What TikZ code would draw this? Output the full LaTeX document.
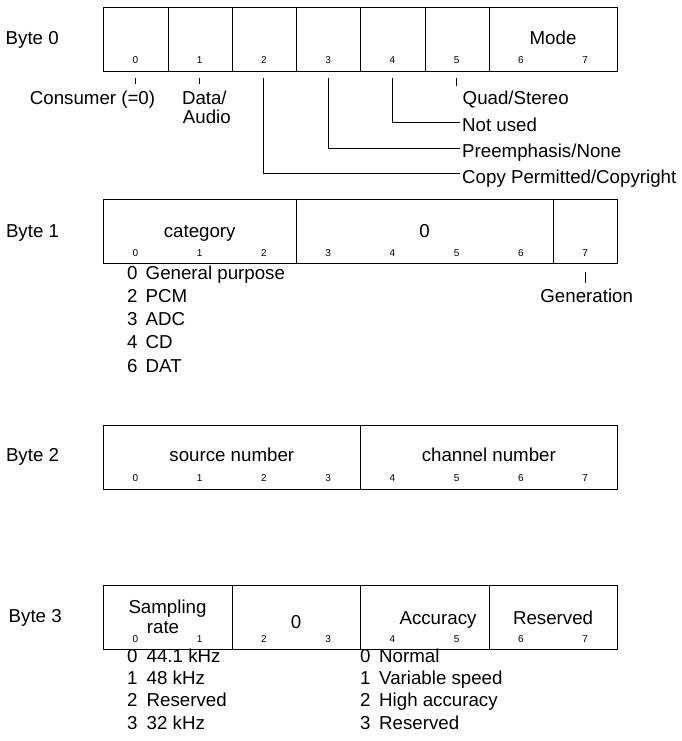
\documentclass[tikz,border=0pt]{standalone}
\usepackage{fontspec}
\setmainfont{Liberation Sans}
\begin{document}
\begin{tikzpicture}[x=1pt,y=-1pt,
  lbl/.style={font=\fontsize{18.7}{20}\selectfont, inner sep=0pt, anchor=base},
  lblw/.style={lbl, anchor=base west},
  bitn/.style={font=\fontsize{10}{12}\selectfont, inner sep=0pt, anchor=base},
  field/.style={draw, line width=1.1pt, minimum height=64pt, inner sep=0pt, anchor=north west},
  lead/.style={line width=1.1pt}]
\useasboundingbox (0,0) rectangle (682,741);

% ---------- Byte 0 ----------
\node[lblw] (byte0) at (5.5,44.3) {Byte 0};
\foreach \i/\x in {0/103.3,1/167.6,2/231.8,3/296.1,4/360.3,5/424.6}
  \node[field, minimum width=64.25pt] (b0f\i) at (\x,6.7) {};
\node[field, minimum width=128.5pt] (b0m) at (488.8,6.7) {};
\node[lbl] (mode) at (553.05,44.3) {Mode};
\foreach \i in {0,...,7}
  \node[bitn] (b0b\i) at ({135.4+64.25*\i},64) {\i};

\coordinate (t0a) at (135.4,78);  \coordinate (t0b) at (135.4,84.3);
\coordinate (t1a) at (199.7,78);  \coordinate (t1b) at (199.7,84.3);
\coordinate (t5a) at (456.7,78);  \coordinate (t5b) at (456.7,86);
\coordinate (t2a) at (263.9,78);  \coordinate (l2) at (460,173.3);
\coordinate (t3a) at (328.2,78);  \coordinate (l3) at (460,148.3);
\coordinate (t4a) at (392.4,78);  \coordinate (l4) at (460,122.3);
\draw[lead] (t0a) -- (t0b);
\draw[lead] (t1a) -- (t1b);
\draw[lead] (t5a) -- (t5b);
\draw[lead] (t2a) |- (l2);
\draw[lead] (t3a) |- (l3);
\draw[lead] (t4a) |- (l4);

\node[lbl] (consumer) at (92.5,105) {Consumer (=0)};
\node[lblw] (data) at (181.8,104.5) {Data/};
\node[lblw] (audio) at (182.7,123.5) {Audio};
\node[lblw] (quad) at (462.5,105) {Quad/Stereo};
\node[lblw] (notused) at (462,131.7) {Not used};
\node[lblw] (preemph) at (462,157.3) {Preemphasis/None};
\node[lblw] (copy) at (462,183.3) {Copy Permitted/Copyright};

% ---------- Byte 1 ----------
\node[lblw] (byte1) at (5.8,237.7) {Byte 1};
\node[field, minimum width=192.75pt] (b1cat) at (103.3,199.3) {};
\node[field, minimum width=257pt] (b1zero) at (296.1,199.3) {};
\node[field, minimum width=64.25pt] (b1gen) at (553.1,199.3) {};
\node[lbl] (category) at (199.7,237.7) {category};
\node[lbl] (zero1) at (424.6,237.7) {0};
\foreach \i in {0,...,7}
  \node[bitn] (b1b\i) at ({135.4+64.25*\i},256.5) {\i};
\coordinate (g1a) at (585.2,271.7); \coordinate (g1b) at (585.2,283.3);
\draw[lead] (g1a) -- (g1b);
\node[lbl] (generation) at (586.7,302.3) {Generation};
\foreach \d/\t/\y [count=\k] in {0/General purpose/279.3,2/PCM/302.5,3/ADC/325.7,4/CD/348.9,6/DAT/372}{
  \node[lblw] (c\k d) at (127,\y) {\d};
  \node[lblw] (c\k t) at (145.5,\y) {\t};
}

% ---------- Byte 2 ----------
\node[lblw] (byte2) at (5.8,461.7) {Byte 2};
\node[field, minimum width=257pt] (b2src) at (103.3,424.7) {};
\node[field, minimum width=257pt] (b2ch) at (360.3,424.7) {};
\node[lbl] (source) at (231.8,461.7) {source number};
\node[lbl] (channel) at (488.8,461.7) {channel number};
\foreach \i in {0,...,7}
  \node[bitn] (b2b\i) at ({135.4+64.25*\i},481.7) {\i};

% ---------- Byte 3 ----------
\node[lblw] (byte3) at (8.5,622.7) {Byte 3};
\node[field, minimum width=128.5pt] (b3sr) at (103.3,585) {};
\node[field, minimum width=128.5pt] (b3z) at (231.8,585) {};
\node[field, minimum width=128.5pt] (b3acc) at (360.3,585) {};
\node[field, minimum width=128.5pt] (b3res) at (488.8,585) {};
\node[lbl] (sampling) at (167.5,613) {Sampling};
\node[lbl] (rate) at (163,633.3) {rate};
\node[lbl] (zero3) at (296.1,628.3) {0};
\node[lbl] (accuracy) at (438,624) {Accuracy};
\node[lbl] (reserved) at (553.05,624) {Reserved};
\foreach \i in {0,...,7}
  \node[bitn] (b3b\i) at ({135.4+64.25*\i},642.5) {\i};
\foreach \d/\t/\y [count=\k] in {0/44.1 kHz/662.7,1/48 kHz/684.8,2/Reserved/706.9,3/32 kHz/729}{
  \node[lblw] (s\k d) at (127,\y) {\d};
  \node[lblw] (s\k t) at (146.5,\y) {\t};
}
\foreach \d/\t/\y [count=\k] in {0/Normal/662.7,1/Variable speed/684.8,2/High accuracy/706.9,3/Reserved/729}{
  \node[lblw] (a\k d) at (360,\y) {\d};
  \node[lblw] (a\k t) at (379,\y) {\t};
}
\end{tikzpicture}
\end{document}
